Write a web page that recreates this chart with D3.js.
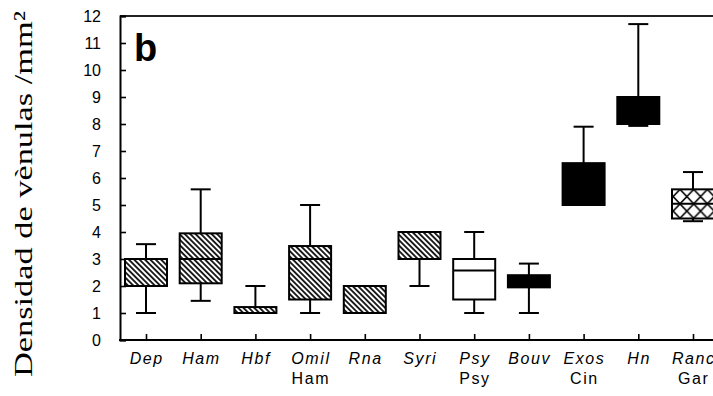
<!DOCTYPE html>
<html>
<head>
<meta charset="utf-8">
<script src="https://cdn.jsdelivr.net/npm/d3@7"></script>
<style>
  body { margin: 0; background: #fff; }
</style>
</head>
<body>
<svg id="chart" width="713" height="396"></svg>
<script>
// Venule density per group (box = quartiles, whiskers = range)
const categories  = ["Dep", "Ham", "Hbf", "Omil", "Rna", "Syri", "Psy", "Bouv", "Exos", "Hn", "Ranc"];
const subLabels   = ["", "", "", "Ham", "", "", "Psy", "", "Cin", "", "Gar"];
const whiskerLow  = [1.0, 1.45, 1.0, 1.0, 1.0, 2.0, 1.0, 1.0, 5.0, 7.93, 4.4];
const q1          = [2.0, 2.1, 1.0, 1.5, 1.0, 3.0, 1.5, 1.95, 5.0, 8.0, 4.5];
const median      = [3.0, 3.0, 1.0, 3.0, 1.0, 3.0, 2.57, 2.2, 5.0, 8.0, 5.05];
const q3          = [3.0, 3.95, 1.22, 3.48, 2.0, 4.0, 3.0, 2.4, 6.55, 9.0, 5.58];
const whiskerHigh = [3.55, 5.58, 2.0, 5.0, 2.0, 4.0, 4.0, 2.83, 7.9, 11.7, 6.22];
const fillKind    = ["hatch", "hatch", "hatch", "hatch", "hatch", "hatch", "open", "solid", "solid", "solid", "cross"];
const yTicks      = d3.range(0, 13);
const yTitle      = "Densidad de vènulas /mm²";
const panelLetter = "b";

const svg = d3.select("#chart");
const plot = { left: 120, top: 16, bottom: 340, right: 760 };

const y = d3.scaleLinear().domain([0, 12]).range([plot.bottom, plot.top]);
const x = d3.scalePoint().domain(categories).range([146, 693]);
const boxW = 42, capW = 20;

const data = categories.map((c, i) => ({
  cat: c, sub: subLabels[i], lo: whiskerLow[i], q1: q1[i], med: median[i],
  q3: q3[i], hi: whiskerHigh[i], fill: fillKind[i]
}));

// fill patterns
const defs = svg.append("defs");
const hatch = defs.append("pattern")
  .attr("id", "hatch").attr("patternUnits", "userSpaceOnUse")
  .attr("width", 3.8).attr("height", 3.8)
  .attr("patternTransform", "rotate(-45)");
hatch.append("rect").attr("width", 3.8).attr("height", 3.8).attr("fill", "#fff");
hatch.append("line").attr("x1", 1.9).attr("x2", 1.9).attr("y1", 0).attr("y2", 3.8)
  .attr("stroke", "#000").attr("stroke-width", 1.7);

const rc = data.find(d => d.fill === "cross");
const cw = 13.7, ch = 14.5;
const cross = defs.append("pattern")
  .attr("id", "cross").attr("patternUnits", "userSpaceOnUse")
  .attr("x", x(rc.cat) - boxW / 2).attr("y", y(rc.q3))
  .attr("width", cw).attr("height", ch);
cross.append("rect").attr("width", cw).attr("height", ch).attr("fill", "#fff");
cross.append("path").attr("d", `M0,0L${cw},${ch}M${cw},0L0,${ch}`)
  .attr("stroke", "#000").attr("stroke-width", 1.5).attr("fill", "none");

const fillFor = k => k === "hatch" ? "url(#hatch)" : k === "cross" ? "url(#cross)" : k === "solid" ? "#000" : "#fff";

// frame
svg.append("line").attr("x1", plot.left).attr("x2", plot.right).attr("y1", plot.top).attr("y2", plot.top)
  .attr("stroke", "#222").attr("stroke-width", 2.2);

// y axis with inward ticks
const yAxis = d3.axisLeft(y).tickValues(yTicks).tickSize(-6).tickPadding(24).tickFormat(d3.format("d"));
const gy = svg.append("g").attr("transform", `translate(${plot.left},0)`).call(yAxis);
gy.select(".domain").attr("stroke", "#000").attr("stroke-width", 2);
gy.selectAll(".tick line").attr("stroke", "#000").attr("stroke-width", 1.6);
gy.selectAll(".tick text").attr("font-family", "Liberation Sans, Arial, sans-serif")
  .attr("font-size", 16).attr("fill", "#000").attr("x", -19).attr("dy", "0.36em");

// x axis with inward ticks
const xAxis = d3.axisBottom(x).tickSize(-6).tickFormat("");
const gx = svg.append("g").attr("transform", `translate(0,${plot.bottom})`).call(xAxis);
gx.select(".domain").remove();
gx.append("line").attr("x1", plot.left - 1).attr("x2", plot.right).attr("y1", 0).attr("y2", 0)
  .attr("stroke", "#000").attr("stroke-width", 2);
gx.selectAll(".tick line").attr("stroke", "#000").attr("stroke-width", 1.6);

// category labels
const labels = svg.append("g").attr("font-family", "Liberation Sans, Arial, sans-serif")
  .attr("font-size", 16).attr("fill", "#000");
labels.selectAll("text.cat").data(data).join("text").attr("class", "cat")
  .attr("x", d => x(d.cat) + 0.8).attr("y", 364)
  .attr("text-anchor", "middle").attr("font-style", "italic")
  .attr("letter-spacing", 1.6).text(d => d.cat);
labels.selectAll("text.sub").data(data.filter(d => d.sub)).join("text").attr("class", "sub")
  .attr("x", d => x(d.cat) + 0.8).attr("y", 384)
  .attr("text-anchor", "middle").attr("letter-spacing", 1.6).text(d => d.sub);

// boxes
const g = svg.append("g").selectAll("g").data(data).join("g")
  .attr("transform", d => `translate(${x(d.cat)},0)`);
function st(sel) { return sel.attr("stroke", "#000").attr("stroke-width", 2); }

st(g.append("line").attr("x1", 0).attr("x2", 0).attr("y1", d => y(d.hi)).attr("y2", d => y(d.q3)));
st(g.append("line").attr("x1", 0).attr("x2", 0).attr("y1", d => y(d.q1)).attr("y2", d => y(d.lo)));
st(g.append("line").attr("x1", -capW / 2).attr("x2", capW / 2).attr("y1", d => y(d.hi)).attr("y2", d => y(d.hi)));
st(g.append("line").attr("x1", -capW / 2).attr("x2", capW / 2).attr("y1", d => y(d.lo)).attr("y2", d => y(d.lo)));
st(g.append("rect").attr("x", -boxW / 2).attr("width", boxW)
  .attr("y", d => y(d.q3)).attr("height", d => y(d.q1) - y(d.q3))
  .attr("fill", d => fillFor(d.fill)));
st(g.append("line").attr("x1", -boxW / 2).attr("x2", boxW / 2)
  .attr("y1", d => y(d.med)).attr("y2", d => y(d.med)));

// panel letter
svg.append("text").attr("x", 134).attr("y", 61)
  .attr("font-family", "Liberation Sans, Arial, sans-serif").attr("font-weight", "bold")
  .attr("font-size", 38).attr("fill", "#000").text(panelLetter);

// y axis title
svg.append("text").attr("transform", "translate(32,194) rotate(-90)")
  .attr("text-anchor", "middle")
  .attr("font-family", "Liberation Serif, serif").attr("font-size", 26)
  .attr("textLength", 366).attr("lengthAdjust", "spacingAndGlyphs")
  .attr("fill", "#000").text(yTitle);
</script>
</body>
</html>
